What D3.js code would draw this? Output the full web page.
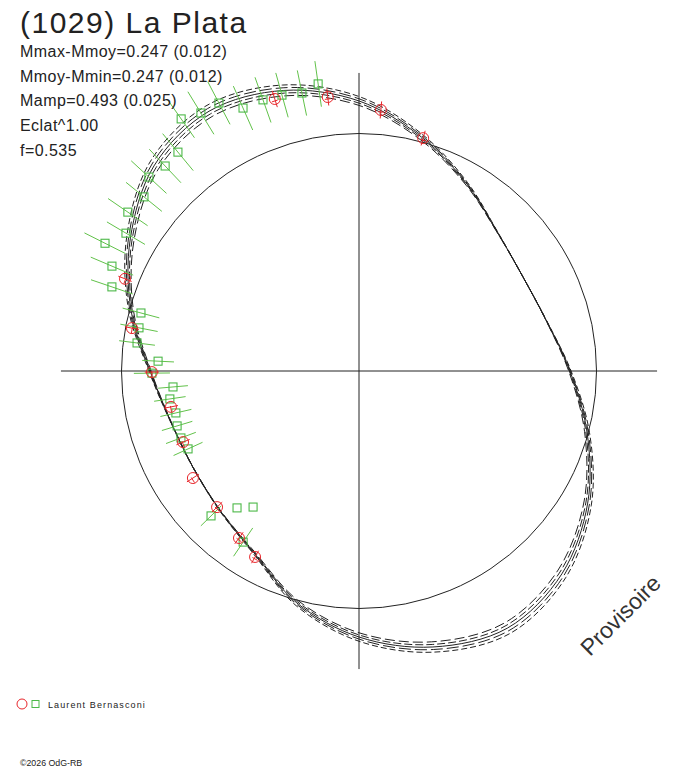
<!DOCTYPE html>
<html><head><meta charset="utf-8">
<script src="https://cdn.jsdelivr.net/npm/d3@7"></script>
<style>body{margin:0;background:#fff}svg{display:block}</style>
</head><body>
<svg id="chart" width="688" height="768"></svg>
<script>
// ---- data (angles in degrees clockwise from north, radius relative to mean circle = 1) ----
const titleText = "(1029) La Plata";
const infoLines = ["Mmax-Mmoy=0.247 (0.012)", "Mmoy-Mmin=0.247 (0.012)", "Mamp=0.493 (0.025)", "Eclat^1.00", "f=0.535"];
const modelAngles = [0,15,30,45,60,75,90,105,120,135,150,165,180,195,210,225,240,255,270,285,300,315,330,345];
const modelRadius = [1.137,1.019,0.909,0.825,0.796,0.817,0.888,0.994,1.112,1.208,1.250,1.203,1.120,1.011,0.884,0.829,0.808,0.821,0.880,0.994,1.112,1.221,1.263,1.223];
const envelopeScale = [-0.055,-0.027,0,0.027,0.055];
const greenAngle = [351.9,348.4,344.4,340.5,336.2,332.4,328.5,324.8,320.4,316.6,312.7,309.0,304.5,300.6,296.7,293.0,288.8,284.9,281.1,277.2,272.8,269.4,265.1,261.6,257.1,253.2,249.4,245.5,225.6,221.7,217.9,214.1];
const greenRadius = [1.221,1.195,1.206,1.211,1.210,1.273,1.274,1.299,1.196,1.188,1.204,1.165,1.181,1.140,1.197,1.130,1.099,0.950,0.944,0.942,0.847,0.872,0.786,0.805,0.791,0.800,0.801,0.791,0.872,0.772,0.726,0.870];
const greenErr = [0.097,0.097,0.097,0.101,0.101,0.101,0.105,0.097,0.101,0.097,0.101,0.097,0.101,0.093,0.097,0.097,0.093,0.080,0.080,0.076,0.067,0.076,0.063,0.067,0.067,0.067,0.067,0.067,0.060,0,0,0.072];
const redAngle = [342.8,353.5,4.8,15.4,291.5,280.7,269.7,259.2,248.0,237.2,226.2,215.7,209.2];
const redRadius = [1.199,1.161,1.103,1.017,1.059,0.973,0.872,0.806,0.799,0.832,0.828,0.866,0.897];
const redErr = [0.036,0.036,0.036,0.032,0.030,0.030,0.030,0.030,0.030,0.030,0.030,0.030,0.030];
const observers = ["Laurent Bernasconi"];
const creditText = "©2026 OdG-RB";
const watermarkText = "Provisoire";
const axisExtent = 1.255;

// ---- drawing ----
const svg = d3.select("#chart");
const cx = 359, cy = 371;
const rScale = d3.scaleLinear().domain([0, 1]).range([0, 237.5]);
const rad = d => d * Math.PI / 180;
const pt = (deg, r) => [rScale(r) * Math.sin(rad(deg)), -rScale(r) * Math.cos(rad(deg))];
const ink = "#222";
const green = "#4cb848", greenLine = "#62c24a", red = "#e8262b";

const g = svg.append("g").attr("transform", `translate(${cx},${cy})`);

// axes
[[270, 90], [0, 180]].forEach(([a, b]) => {
  const p = pt(a, axisExtent), q = pt(b, axisExtent);
  g.append("line").attr("x1", p[0]).attr("y1", p[1]).attr("x2", q[0]).attr("y2", q[1])
    .attr("stroke", ink).attr("stroke-width", 1);
});
// mean circle
g.append("circle").attr("r", rScale(1)).attr("fill", "none").attr("stroke", ink).attr("stroke-width", 1);

// model curves
const rMin = d3.min(modelRadius);
const modelData = modelAngles.map((a, i) => [a, modelRadius[i]]);
const dashes = ["10,4", "8,3", null, "12,4", "6,3"];
const line = d3.lineRadial().angle(d => rad(d[0])).radius(d => rScale(d[1])).curve(d3.curveCatmullRomClosed.alpha(0.5));
envelopeScale.forEach((s, k) => {
  const data = modelData.map(([a, r]) => [a, rMin + (r - rMin) * (1 + s)]);
  g.append("path").attr("d", line(data)).attr("fill", "none").attr("stroke", ink)
    .attr("stroke-width", 1).attr("stroke-dasharray", dashes[k]);
});

// green error bars and squares
greenAngle.forEach((a, i) => {
  const e = greenErr[i];
  if (e > 0) {
    const p = pt(a, greenRadius[i] - e), q = pt(a, greenRadius[i] + e);
    g.append("line").attr("x1", p[0]).attr("y1", p[1]).attr("x2", q[0]).attr("y2", q[1])
      .attr("stroke", greenLine).attr("stroke-width", 1);
  }
});
greenAngle.forEach((a, i) => {
  const c = pt(a, greenRadius[i]);
  g.append("rect").attr("x", c[0] - 4).attr("y", c[1] - 4).attr("width", 8).attr("height", 8)
    .attr("fill", "none").attr("stroke", green).attr("stroke-width", 1.1);
});

// red points
redAngle.forEach((a, i) => {
  const r = redRadius[i], e = redErr[i];
  const p = pt(a, r - e), q = pt(a, r + e), c = pt(a, r);
  g.append("line").attr("x1", p[0]).attr("y1", p[1]).attr("x2", q[0]).attr("y2", q[1])
    .attr("stroke", red).attr("stroke-width", 1);
  const tx = Math.cos(rad(a)) * 3, ty = Math.sin(rad(a)) * 3;
  g.append("line").attr("x1", c[0] - tx).attr("y1", c[1] - ty + 2).attr("x2", c[0] + tx).attr("y2", c[1] + ty + 2)
    .attr("stroke", red).attr("stroke-width", 1);
  g.append("circle").attr("cx", c[0]).attr("cy", c[1]).attr("r", 5.5)
    .attr("fill", "none").attr("stroke", red).attr("stroke-width", 1);
});

// texts
const font = "'Liberation Sans', Arial, sans-serif";
svg.append("text").attr("x", 20).attr("y", 33).text(titleText)
  .attr("font-family", font).attr("font-size", 30).attr("fill", ink).attr("letter-spacing", "1.5px");
infoLines.forEach((t, i) => {
  svg.append("text").attr("x", 20).attr("y", 57 + i * 24.7).text(t)
    .attr("font-family", font).attr("font-size", 16).attr("fill", ink).attr("letter-spacing", "0.45px");
});
svg.append("text").attr("transform", "translate(590,657) rotate(-45)").text(watermarkText)
  .attr("font-family", font).attr("font-size", 23).attr("fill", "#333");

// legend
observers.forEach((name, i) => {
  const y = 704 + i * 14;
  svg.append("circle").attr("cx", 22).attr("cy", y).attr("r", 5).attr("fill", "none").attr("stroke", red).attr("stroke-width", 1);
  svg.append("rect").attr("x", 32).attr("y", y - 3.5).attr("width", 7).attr("height", 7).attr("fill", "none").attr("stroke", green).attr("stroke-width", 1);
  svg.append("text").attr("x", 48).attr("y", y + 4).text(name)
    .attr("font-family", font).attr("font-size", 9).attr("fill", ink).attr("letter-spacing", "1.1px");
});
svg.append("text").attr("x", 20).attr("y", 766).text(creditText)
  .attr("font-family", font).attr("font-size", 8.8).attr("fill", ink);
</script>
</body></html>
